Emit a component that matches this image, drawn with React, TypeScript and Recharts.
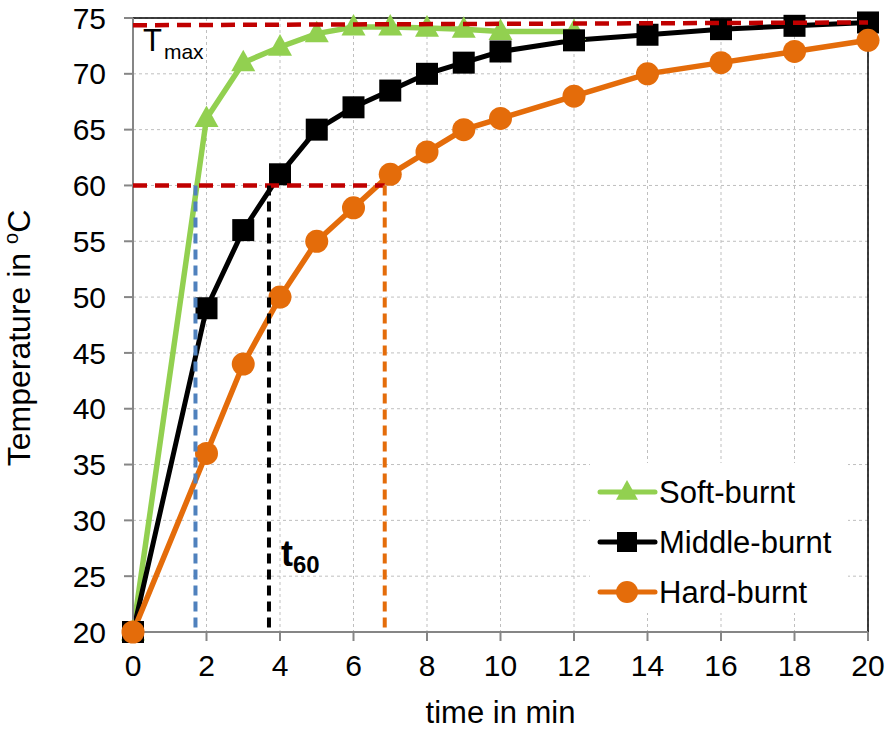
import React from 'react';
import { LineChart, Line, XAxis, YAxis, CartesianGrid, ReferenceLine, Legend } from 'recharts';

const timeMin = [0, 2, 3, 4, 5, 6, 7, 8, 9, 10, 12, 14, 16, 18, 20];
const softBurnt = [20, 66, 71, 72.4, 73.6, 74.2, 74.2, 74.1, 74.0, 73.8, 73.8, null, null, null, null];
const middleBurnt = [20, 49, 56, 61, 65, 67, 68.5, 70, 71, 72, 73, 73.5, 74, 74.3, 74.6];
const hardBurnt = [20, 36, 44, 50, 55, 58, 61, 63, 65, 66, 68, 70, 71, 72, 73];

const xTicks = [0, 2, 4, 6, 8, 10, 12, 14, 16, 18, 20];
const yTicks = [20, 25, 30, 35, 40, 45, 50, 55, 60, 65, 70, 75];

const tMaxStart = 74.35;
const tMaxEnd = 74.6;
const threshold = 60;
const t60Soft = 1.7;
const t60Middle = 3.7;
const t60Hard = 6.85;
const thresholdLineEnd = 6.85;
const legendOrder = ['soft', 'middle', 'hard'];

const GREEN = '#92d050';
const BLACK = '#000000';
const ORANGE = '#e46c0a';
const RED = '#c00000';
const BLUE = '#4f81bd';
const FONT = "'Liberation Sans', Arial, sans-serif";

const data = timeMin.map((t, i) => ({
  t,
  soft: softBurnt[i],
  middle: middleBurnt[i],
  hard: hardBurnt[i],
}));

const tri = (cx: number, cy: number, s: number) =>
  `M${cx},${cy - s} L${cx + s},${cy + s * 0.8} L${cx - s},${cy + s * 0.8} Z`;

const TriangleDot = (props: any) => {
  const { cx, cy, index, value } = props;
  if (cx == null || cy == null || value == null) return <g key={`st-${index}`} />;
  return <path key={`st-${index}`} d={tri(cx, cy - 1, 12)} fill={GREEN} />;
};
const SquareDot = (props: any) => {
  const { cx, cy, index, value } = props;
  if (cx == null || cy == null || value == null) return <g key={`sq-${index}`} />;
  return <rect key={`sq-${index}`} x={cx - 11} y={cy - 11} width={22} height={22} fill={BLACK} />;
};
const CircleDot = (props: any) => {
  const { cx, cy, index, value } = props;
  if (cx == null || cy == null || value == null) return <g key={`ci-${index}`} />;
  return <circle key={`ci-${index}`} cx={cx} cy={cy} r={11.5} fill={ORANGE} />;
};

const markerFor = (key: string, cx: number, cy: number) => {
  if (key === 'soft') return <path d={tri(cx, cy - 1, 11)} fill={GREEN} />;
  if (key === 'middle') return <rect x={cx - 10} y={cy - 10} width={20} height={20} fill={BLACK} />;
  return <circle cx={cx} cy={cy} r={11} fill={ORANGE} />;
};

const renderLegend = (props: any) => {
  const payload = [...(props.payload || [])].sort(
    (a: any, b: any) => legendOrder.indexOf(a.dataKey) - legendOrder.indexOf(b.dataKey)
  );
  return (
    <svg width={258} height={150} style={{ display: 'block' }}>
      <rect x={0} y={0} width={258} height={150} fill="#ffffff" />
      {payload.map((p: any, i: number) => {
        const y = 29 + i * 50;
        return (
          <g key={p.value}>
            <line x1={10} x2={65} y1={y} y2={y} stroke={p.color} strokeWidth={5} strokeLinecap="round" />
            {markerFor(p.dataKey, 37, y)}
            <text x={69} y={y + 11} fontSize={31} fontFamily={FONT} fill="#000">
              {p.value}
            </text>
          </g>
        );
      })}
    </svg>
  );
};

const TmaxLabel = (props: any) => {
  const vb = props.viewBox || {};
  const x = vb.x + 10;
  const y = Math.min(vb.y, vb.y + (vb.height || 0)) + 29;
  return (
    <text x={x} y={y} fontFamily={FONT} fill="#000">
      <tspan fontSize={31}>T</tspan>
      <tspan fontSize={21} dx={2} dy={8}>max</tspan>
    </text>
  );
};

const T60Label = (props: any) => {
  const vb = props.viewBox || {};
  const bottom = Math.max(vb.y, vb.y + (vb.height || 0));
  const x = vb.x + 12;
  const y = bottom - 62;
  return (
    <text x={x} y={y} fontFamily={FONT} fontWeight="bold" fill="#000">
      <tspan fontSize={36}>t</tspan>
      <tspan fontSize={24} dy={7}>60</tspan>
    </text>
  );
};

const YLabel = () => (
  <text
    x={30}
    y={338}
    transform="rotate(-90, 30, 338)"
    textAnchor="middle"
    fontFamily={FONT}
    fontSize={32}
    fill="#000"
  >
    Temperature in <tspan fontSize={20} dy={-12}>o</tspan>
    <tspan dy={12}>C</tspan>
  </text>
);

export default function App() {
  return (
    <div style={{ position: 'absolute', left: 0, top: 0, width: 888, height: 729, background: '#fff' }}>
      <LineChart
        width={888}
        height={729}
        data={data}
        margin={{ top: 18, right: 20, left: 0, bottom: 0 }}
      >
        <CartesianGrid stroke="#bfbfbf" strokeDasharray="3 3" strokeWidth={1} />
        <XAxis
          dataKey="t"
          type="number"
          domain={[0, 20]}
          ticks={xTicks}
          height={97}
          axisLine={{ stroke: '#868686', strokeWidth: 2 }}
          tickLine={{ stroke: '#868686', strokeWidth: 2 }}
          tickSize={9}
          tickMargin={14}
          tick={{ fontSize: 30, fontFamily: FONT, fill: '#000' }}
          label={{ value: 'time in min', position: 'insideBottom', offset: 6, fontSize: 31, fontFamily: FONT, fill: '#000' }}
        />
        <YAxis
          type="number"
          domain={[20, 75]}
          ticks={yTicks}
          width={133}
          axisLine={{ stroke: '#868686', strokeWidth: 2 }}
          tickLine={{ stroke: '#868686', strokeWidth: 2 }}
          tickSize={9}
          tickMargin={18}
          tick={{ fontSize: 30, fontFamily: FONT, fill: '#000' }}
          label={<YLabel />}
        />
        <ReferenceLine y={75} stroke="#000" strokeWidth={1.5} />
        <ReferenceLine x={20} stroke="#000" strokeWidth={1.5} />
        <Line
          dataKey="soft"
          name="Soft-burnt"
          stroke={GREEN}
          strokeWidth={5.5}
          dot={TriangleDot}
          isAnimationActive={false}
          connectNulls={false}
        />
        <Line
          dataKey="middle"
          name="Middle-burnt"
          stroke={BLACK}
          strokeWidth={5}
          dot={SquareDot}
          isAnimationActive={false}
        />
        <Line
          dataKey="hard"
          name="Hard-burnt"
          stroke={ORANGE}
          strokeWidth={5.5}
          dot={CircleDot}
          isAnimationActive={false}
        />
        <ReferenceLine
          segment={[{ x: 0, y: tMaxStart }, { x: 20, y: tMaxEnd }]}
          stroke={RED}
          strokeWidth={4.5}
          strokeDasharray="14 8"
          zIndex={1500}
          label={(p: any) => <TmaxLabel {...p} />}
        />
        <ReferenceLine
          segment={[{ x: 0, y: threshold }, { x: thresholdLineEnd, y: threshold }]}
          stroke={RED}
          strokeWidth={4.5}
          strokeDasharray="14 8"
          zIndex={1500}
        />
        <ReferenceLine
          segment={[{ x: t60Soft, y: 20.4 }, { x: t60Soft, y: threshold }]}
          stroke={BLUE}
          strokeWidth={4}
          strokeDasharray="10 6"
          zIndex={1500}
        />
        <ReferenceLine
          segment={[{ x: t60Middle, y: 20.4 }, { x: t60Middle, y: threshold }]}
          stroke={BLACK}
          strokeWidth={4}
          strokeDasharray="10 6"
          zIndex={1500}
          label={(p: any) => <T60Label {...p} />}
        />
        <ReferenceLine
          segment={[{ x: t60Hard, y: 20.4 }, { x: t60Hard, y: threshold }]}
          stroke={ORANGE}
          strokeWidth={4}
          strokeDasharray="10 6"
          zIndex={1500}
        />
        <Legend
          layout="vertical"
          align="center"
          verticalAlign="middle"
          content={renderLegend}
          wrapperStyle={{ left: 590, top: 463, width: 258, height: 150 }}
        />
      </LineChart>
    </div>
  );
}
